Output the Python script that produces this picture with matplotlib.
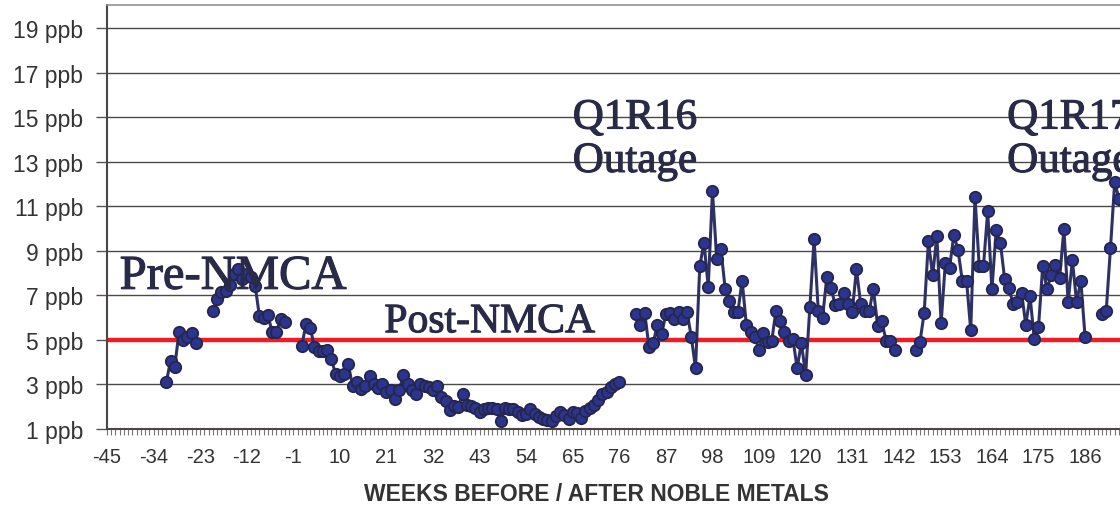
import numpy as np
import matplotlib

matplotlib.use("Agg")
import matplotlib.pyplot as plt
import matplotlib.patheffects as pe
from matplotlib.ticker import MultipleLocator

# weekly H2O2 / ppb readings, one point per week, segments separated by gaps
PRE_A_START = -31
PRE_A = [3.1, 4.05, 3.8, 5.35, 5.0, 5.15, 5.3, 4.85]

PRE_B_START = -20
PRE_B = [6.32, 6.85, 7.15, 7.22, 7.45, 7.98, 8.2, 7.75, 7.98, 7.83, 7.42,
         6.07, 5.98, 6.13, 5.35, 5.35, 5.92, 5.8]

POST_START = 1
POST = [4.75, 5.7, 5.55, 4.68, 4.52, 4.5, 4.57, 4.15, 3.45, 3.4, 3.45, 3.9,
        2.92, 3.13, 2.8, 2.95, 3.37, 3.03, 2.85, 3.0, 2.65, 2.73, 2.35, 2.73,
        3.43, 3.03, 2.77, 2.58, 3.0, 2.92, 2.9, 2.73, 2.95, 2.42, 2.28, 1.87,
        2.05, 2.0, 2.58, 2.08, 2.05, 1.95, 1.75, 1.9, 1.93, 1.93, 1.9, 1.37,
        1.93, 1.9, 1.9, 1.75, 1.65, 1.68, 1.9, 1.68, 1.52, 1.45, 1.4, 1.37,
        1.6, 1.75, 1.65, 1.45, 1.75, 1.7, 1.48, 1.82, 1.95, 2.08, 2.3, 2.58,
        2.65, 2.9, 3.03, 3.13]

CYCLE16_START = 80
CYCLE16 = [6.18, 5.68, 6.22, 4.68, 4.87, 5.68, 5.27, 6.18, 6.2, 5.92, 6.25,
           5.92, 6.25, 5.13, 3.73, 8.32, 9.37, 7.38, 11.68, 8.65, 9.07, 7.3,
           6.73, 6.25, 6.25, 7.67, 5.68, 5.35, 5.13, 4.57, 5.3, 4.9, 4.97,
           6.32, 5.87, 5.35, 4.97, 5.05, 3.73, 4.87, 3.43, 6.48, 9.52, 6.28,
           6.0, 7.83, 7.35, 6.55, 6.63, 7.12, 6.63, 6.25, 8.17, 6.63, 6.28,
           6.28, 7.3, 5.65, 5.83, 4.97, 4.97, 4.55]

CYCLE16B_START = 146
CYCLE16B = [4.55, 4.9, 6.22, 9.43, 7.9, 9.67, 5.75, 8.47, 8.23, 9.73, 9.03,
            7.67, 7.67, 5.43, 11.43, 8.32, 8.32, 10.78, 7.27, 9.92, 9.36,
            7.75, 7.33, 6.63, 6.7, 7.12, 5.68, 6.97, 5.05, 5.58, 8.32, 7.27,
            7.93, 8.38, 7.78, 10.0, 6.7, 8.58, 6.7, 7.67, 5.13]

CYCLE17_START = 190
CYCLE17 = [6.18, 6.32, 9.13, 12.1, 11.35]

SEGMENTS = [(PRE_A_START, PRE_A), (PRE_B_START, PRE_B), (POST_START, POST),
            (CYCLE16_START, CYCLE16), (CYCLE16B_START, CYCLE16B),
            (CYCLE17_START, CYCLE17)]

TARGET_PPB = 5
X_FIRST, X_LAST = -45, 194.25
Y_TICKS = list(range(1, 20, 2))
X_LABEL_TICKS = list(range(-45, 190, 11))

ANNOTATIONS = [
    ("Pre-NMCA", -42.0, 7.3, 35),
    ("Post-NMCA", 20.5, 5.35, 30),
    ("Q1R16", 65.0, 14.5, 31),
    ("Outage", 65.0, 12.55, 31),
    ("Q1R17", 167.6, 14.5, 31),
    ("Outage", 167.6, 12.55, 31),
]


def main() -> None:
    weeks, values = [], []
    for start, vals in SEGMENTS:
        weeks.extend(list(start + np.arange(len(vals))) + [np.nan])
        values.extend(list(vals) + [np.nan])

    fig = plt.figure(figsize=(11.2, 5.1), dpi=100)
    ax = fig.add_axes([107 / 1120, 80 / 510, 1 - 107 / 1120, 424 / 510])

    ax.set_xlim(X_FIRST, X_LAST)
    ax.set_ylim(1, 20.05)

    ax.set_yticks(Y_TICKS)
    ax.set_yticklabels([f"{v} ppb" for v in Y_TICKS])
    ax.yaxis.grid(True, color="#4a4a4a", lw=1.0)
    ax.set_axisbelow(True)

    ax.set_xticks(X_LABEL_TICKS)
    ax.set_xticklabels([str(v) for v in X_LABEL_TICKS])
    ax.xaxis.set_minor_locator(MultipleLocator(1))

    ax.tick_params(axis="y", length=8, width=1, color="#555555", pad=9,
                   labelsize=16.5, labelcolor="#333333")
    ax.tick_params(axis="x", which="both", length=4, width=0.8,
                   color="#777777", pad=9, labelsize=14.5,
                   labelcolor="#333333")
    for lbl in ax.get_xticklabels() + ax.get_yticklabels():
        lbl.set_fontfamily("Liberation Sans")

    for side in ("left", "bottom"):
        ax.spines[side].set_color("#4d4545")
        ax.spines[side].set_linewidth(1.5)
    ax.spines["top"].set_color("#9a9090")
    ax.spines["top"].set_linewidth(1.2)
    ax.spines["right"].set_visible(False)

    ax.plot([X_FIRST, X_LAST], [TARGET_PPB, TARGET_PPB], color="#ee1c25",
            lw=3.2, solid_capstyle="round", zorder=2)

    ax.plot(weeks, values, color="#2e3163", lw=2.2, marker="o", ms=8.2,
            mfc="#2b3590", mec="#25264a", mew=1.3, zorder=3)

    for text, x, y, size in ANNOTATIONS:
        ax.text(x, y, text, fontsize=size, family="Liberation Serif",
                color="#282a48", ha="left", va="baseline", zorder=4,
                path_effects=[pe.withStroke(linewidth=0.8,
                                            foreground="#282a48")])

    fig.text(596 / 1120, 1 - 495 / 510, "WEEKS BEFORE / AFTER NOBLE METALS",
             ha="center", va="center", fontsize=16.5, fontweight="bold",
             family="Liberation Sans", color="#333333")

    fig.savefig("out.png", dpi=100)
    plt.close(fig)


if __name__ == "__main__":
    main()
